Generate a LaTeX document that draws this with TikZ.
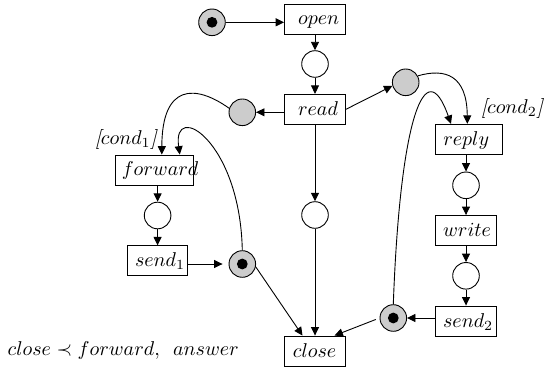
\documentclass[tikz,border=0pt]{standalone}
\usetikzlibrary{arrows.meta,calc}
\definecolor{placegray}{gray}{0.8}
\begin{document}
\begin{tikzpicture}[x=0.5pt,y=-0.5pt,line width=0.45pt,
  trans/.style={draw,minimum height=15pt,inner sep=0pt,text height=7.5pt,text depth=1.5pt,align=left},
  pl/.style={circle,draw,minimum size=13.3pt,inner sep=0pt,fill=white},
  gpl/.style={pl,fill=placegray},
  tok/.style={gpl,path picture={\fill[black] (path picture bounding box.center) circle (2.7pt);}},
  arr/.style={-{Triangle[length=4.2pt,width=4pt]}}]
\useasboundingbox (0,0) rectangle (546,369);
% places
\node[tok] (st) at (212,22.3) {};
\node[pl] (p1) at (315,64) {};
\node[gpl] (gl) at (242.3,112.3) {};
\node[gpl] (gr) at (405.7,82.3) {};
\node[pl] (pf) at (157.6,215.5) {};
\node[tok] (tl) at (242.3,264) {};
\node[pl] (pm) at (315,215) {};
\node[pl] (pr) at (466,185.3) {};
\node[pl] (pw) at (466,275.8) {};
\node[tok] (tr) at (393.3,318) {};
% transitions
\node[trans,text width=30.5pt] (open) at (315,19) {\hspace*{6.8pt}$open$};
\node[trans,text width=30.5pt] (read) at (315,109.3) {\hspace*{6.8pt}$read$};
\node[trans,text width=39pt] (forward) at (154.8,170) {\hspace*{3pt}$forward$};
\node[trans,text width=30pt] (send1) at (157.6,260.8) {\hspace*{3.7pt}$send_1$};
\node[trans,text width=30.5pt] (close) at (315,351) {\hspace*{4.2pt}$close$};
\node[trans,text width=33.3pt] (reply) at (469,139.3) {\hspace*{3.8pt}$reply$};
\node[trans,text width=30.5pt] (write) at (466,230.5) {\hspace*{3.8pt}$write$};
\node[trans,text width=30.5pt] (send2) at (466,321) {\hspace*{3.8pt}$send_2$};
% labels
\node (cond1) at (125.8,140) {{\itshape [}$cond_1${\itshape ]}};
\node (cond2) at (512,108.3) {{\itshape [}$cond_2${\itshape ]}};
\node (rule) at (123.3,350) {$close \prec forward,\ \,answer$};
% anchor points
\coordinate (f1) at ($(forward.north)+(7,0)$);
\coordinate (f2) at ($(forward.north)+(25,0)$);
\coordinate (r1) at ($(reply.north)+(-18,0)$);
\coordinate (r2) at ($(reply.north)+(-1.7,0)$);
\coordinate (c1) at ($(close.north)+(-12.5,0)$);
\coordinate (c2) at ($(close.north)+(19.5,0)$);
% arcs
\draw[arr] (st) -- (st -| open.west);
\draw[arr] (open) -- (p1);
\draw[arr] (p1) -- (read);
\draw[arr] (gl -| read.west) -- (gl);
\draw[arr] (read.east) -- (gr.195);
\draw[arr] (read) -- (pm);
\draw[arr] (pm) -- (close);
\draw[arr] (pf |- forward.south) -- (pf);
\draw[arr] (pf) -- (pf |- send1.north);
\draw[arr,shorten >=3pt] (tl -| send1.east) -- (tl);
\draw[arr] (tl.-12) -- (c1);
\draw[arr] (pr |- reply.south) -- (pr);
\draw[arr] (pr) -- (write);
\draw[arr] (write) -- (pw);
\draw[arr] (pw) -- (send2);
\draw[arr] (tr -| send2.west) -- (tr);
\draw[arr,shorten <=2pt] (tr.west) -- (c2);
\draw[arr] (gl.163) .. controls (195,84) and (162,84) .. (f1);
\draw[arr] (tl.north) .. controls (240,140) and (172,100) .. (f2);
\draw[arr] (gr.28) .. controls (445,68) and (467,75) .. (r2);
\draw[arr] (tr.north) .. controls (400,120) and (425,50) .. (r1);
\end{tikzpicture}
\end{document}
